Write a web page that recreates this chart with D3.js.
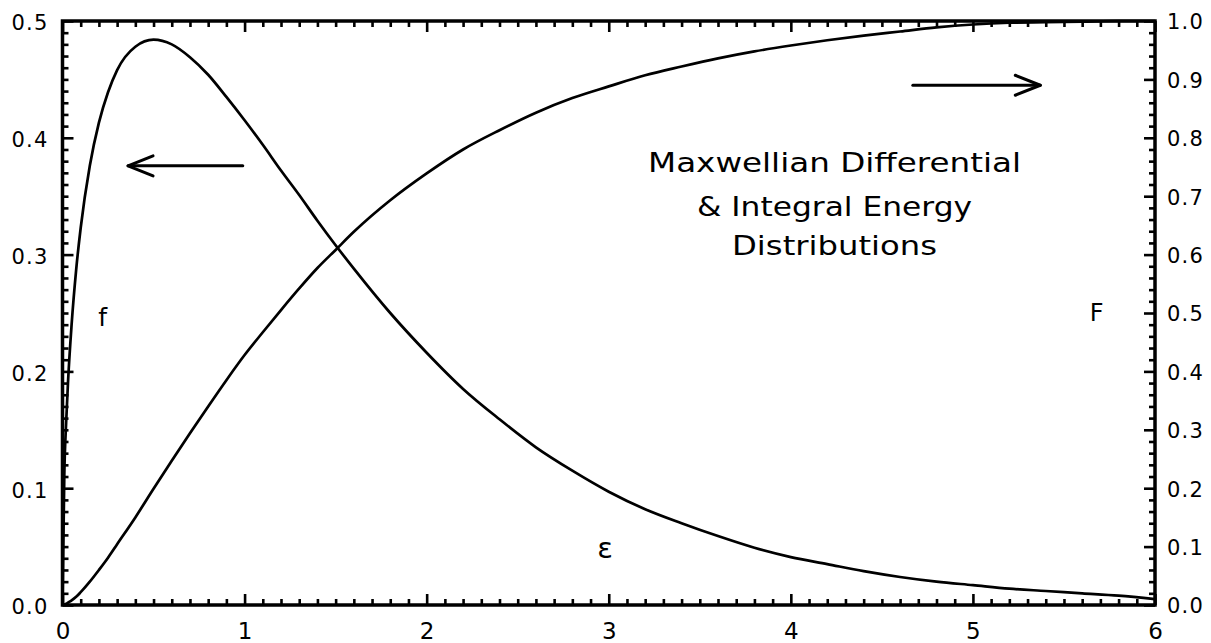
<!DOCTYPE html>
<html>
<head>
<meta charset="utf-8">
<script src="https://cdn.jsdelivr.net/npm/d3@7"></script>
<style>
  html, body { margin: 0; padding: 0; background: #fff; }
  svg { display: block; }
  text { font-family: "DejaVu Sans", sans-serif; fill: #000; }
</style>
</head>
<body>
<svg id="chart" width="1211" height="643"></svg>
<script>
// Reduced energy ε = E/kT
const energy = [0, 0.01, 0.02, 0.03, 0.05, 0.075, 0.1, 0.15, 0.2, 0.25, 0.3, 0.4, 0.5, 0.6, 0.7, 0.8, 0.9,
  1.0, 1.1, 1.2, 1.3, 1.4, 1.5, 1.6, 1.8, 2.0, 2.2, 2.4, 2.6, 2.8, 3.0, 3.2, 3.4, 3.6, 3.8,
  4.0, 4.2, 4.4, 4.6, 4.8, 5.0, 5.2, 5.4, 5.6, 5.8, 6.0];

// Differential distribution f(ε), left axis
const fDiff = [0, 0.112, 0.156, 0.190, 0.240, 0.287, 0.323, 0.376, 0.413, 0.439, 0.458, 0.478, 0.484, 0.480, 0.469, 0.454, 0.435,
  0.415, 0.394, 0.372, 0.351, 0.329, 0.308, 0.288, 0.250, 0.216, 0.185, 0.159, 0.135, 0.115, 0.097, 0.082, 0.070, 0.059, 0.049,
  0.041, 0.035, 0.029, 0.024, 0.020, 0.017, 0.014, 0.012, 0.010, 0.008, 0.005];

// Integral distribution F(ε), right axis
const FInt = [0, 0.001, 0.002, 0.004, 0.008, 0.014, 0.022, 0.040, 0.060, 0.081, 0.104, 0.150, 0.199, 0.247, 0.294, 0.340, 0.385,
  0.428, 0.467, 0.505, 0.542, 0.577, 0.608, 0.639, 0.693, 0.739, 0.780, 0.813, 0.843, 0.868, 0.888, 0.907, 0.922, 0.936, 0.948,
  0.958, 0.967, 0.975, 0.982, 0.989, 0.994, 0.997, 0.998, 0.999, 1.000, 1.000];

const xTickValues = [0, 1, 2, 3, 4, 5, 6];
const xTickLabels = ["0", "1", "2", "3", "4", "5", "6"];
const leftTickValues = [0, 0.1, 0.2, 0.3, 0.4, 0.5];
const leftTickLabels = ["0.0", "0.1", "0.2", "0.3", "0.4", "0.5"];
const rightTickValues = [0, 0.1, 0.2, 0.3, 0.4, 0.5, 0.6, 0.7, 0.8, 0.9, 1.0];
const rightTickLabels = ["0.0", "0.1", "0.2", "0.3", "0.4", "0.5", "0.6", "0.7", "0.8", "0.9", "1.0"];

const titleLines = ["Maxwellian Differential", "& Integral Energy", "Distributions"];

// Annotation anchors in data units
const leftArrow = { from: [0.99, 0.376], to: [0.36, 0.376] };   // f scale
const rightArrow = { from: [4.67, 0.89], to: [5.37, 0.89] };    // F scale

const svg = d3.select("#chart");
const L = 62.5, R = 1155, T = 21, B = 605;

const x = d3.scaleLinear().domain([0, 6]).range([L, R]);
const yL = d3.scaleLinear().domain([0, 0.5]).range([B, T]);
const yR = d3.scaleLinear().domain([0, 1]).range([B, T]);

const major = 11, minor = 6;

function styleAxis(g) {
  g.select(".domain").remove();
  g.selectAll(".tick line").attr("stroke", "#000").attr("stroke-width", 2.6);
}

// Minor ticks
const xMinor = d3.range(0, 61).map(d => d / 10).filter(d => Math.abs(d - Math.round(d)) > 1e-6);
const yLMinor = d3.range(0, 51).map(d => d / 100).filter(d => Math.abs(d * 10 - Math.round(d * 10)) > 1e-6);
const yRMinor = d3.range(0, 51).map(d => d / 50).filter(d => Math.abs(d * 10 - Math.round(d * 10)) > 1e-6);

svg.append("g").attr("transform", `translate(0,${B})`)
  .call(d3.axisBottom(x).tickValues(xMinor).tickSize(-minor).tickFormat("")).call(styleAxis);
svg.append("g").attr("transform", `translate(0,${T})`)
  .call(d3.axisTop(x).tickValues(xMinor).tickSize(-minor).tickFormat("")).call(styleAxis);
svg.append("g").attr("transform", `translate(${L},0)`)
  .call(d3.axisLeft(yL).tickValues(yLMinor).tickSize(-minor).tickFormat("")).call(styleAxis);
svg.append("g").attr("transform", `translate(${R},0)`)
  .call(d3.axisRight(yR).tickValues(yRMinor).tickSize(-minor).tickFormat("")).call(styleAxis);

// Major ticks and labels
const gx = svg.append("g").attr("transform", `translate(0,${B})`)
  .call(d3.axisBottom(x).tickValues(xTickValues).tickSizeInner(-major).tickSizeOuter(0).tickPadding(18)
    .tickFormat((d, i) => xTickLabels[i])).call(styleAxis);
gx.selectAll("text").style("font-size", "23px");

svg.append("g").attr("transform", `translate(0,${T})`)
  .call(d3.axisTop(x).tickValues(xTickValues).tickSizeInner(-major).tickSizeOuter(0).tickFormat(""))
  .call(styleAxis);

const gl = svg.append("g").attr("transform", `translate(${L},0)`)
  .call(d3.axisLeft(yL).tickValues(leftTickValues).tickSizeInner(-major).tickSizeOuter(0).tickPadding(14)
    .tickFormat((d, i) => leftTickLabels[i])).call(styleAxis);
gl.selectAll("text").style("font-size", "21px").style("letter-spacing", "1.2px").attr("dy", "0.42em");

const gr = svg.append("g").attr("transform", `translate(${R},0)`)
  .call(d3.axisRight(yR).tickValues(rightTickValues).tickSizeInner(-major).tickSizeOuter(0).tickPadding(12)
    .tickFormat((d, i) => rightTickLabels[i])).call(styleAxis);
gr.selectAll("text").style("font-size", "21px").style("letter-spacing", "1.2px").attr("dy", "0.38em");

// Frame
svg.append("rect")
  .attr("x", L).attr("y", T).attr("width", R - L).attr("height", B - T)
  .attr("fill", "none").attr("stroke", "#000").attr("stroke-width", 3.5);

// Curves
const fLine = d3.line().x((d, i) => x(energy[i])).y(d => yL(d)).curve(d3.curveMonotoneX);
const FLine = d3.line().x((d, i) => x(energy[i])).y(d => yR(d)).curve(d3.curveMonotoneX);

svg.append("path").datum(fDiff).attr("d", fLine)
  .attr("fill", "none").attr("stroke", "#000").attr("stroke-width", 2.7).attr("stroke-linejoin", "round");
svg.append("path").datum(FInt).attr("d", FLine)
  .attr("fill", "none").attr("stroke", "#000").attr("stroke-width", 2.7).attr("stroke-linejoin", "round");

// Arrows pointing to each curve's axis
function arrow(a, ys) {
  const x0 = x(a.from[0]), y0 = ys(a.from[1]);
  const x1 = x(a.to[0]), y1 = ys(a.to[1]);
  const dir = Math.sign(x1 - x0);
  const g = svg.append("g").attr("fill", "none").attr("stroke", "#000")
    .attr("stroke-width", 3).attr("stroke-linecap", "round").attr("stroke-linejoin", "round");
  g.append("line").attr("x1", x0).attr("y1", y0).attr("x2", x1).attr("y2", y1);
  g.append("path").attr("d", `M${x1 - dir * 25},${y0 - 10} L${x1},${y1} L${x1 - dir * 25},${y0 + 10}`);
}
arrow(leftArrow, yL);
arrow(rightArrow, yR);

// Curve and axis labels
svg.append("text").attr("x", x(0.22)).attr("y", yL(0.246)).attr("dy", "0.35em")
  .attr("text-anchor", "middle").style("font-size", "25px").text("f");
svg.append("text").attr("x", x(5.68)).attr("y", yR(0.50)).attr("dy", "0.35em")
  .attr("text-anchor", "middle").style("font-size", "24px").text("F");
svg.append("text").attr("x", x(2.98)).attr("y", yL(0.049)).attr("dy", "0.35em")
  .attr("text-anchor", "middle").style("font-size", "29px").text("ε");

// Title block, glyphs widened to the block's line widths
const titleX = x(4.24);
const titleBase = [172, 216, 255];
const titleWidth = [373, 275, 205];
titleLines.forEach((t, i) => {
  svg.append("text")
    .attr("x", titleX - titleWidth[i] / 2).attr("y", titleBase[i])
    .attr("textLength", titleWidth[i]).attr("lengthAdjust", "spacingAndGlyphs")
    .style("font-size", "27px").text(t);
});
</script>
</body>
</html>
